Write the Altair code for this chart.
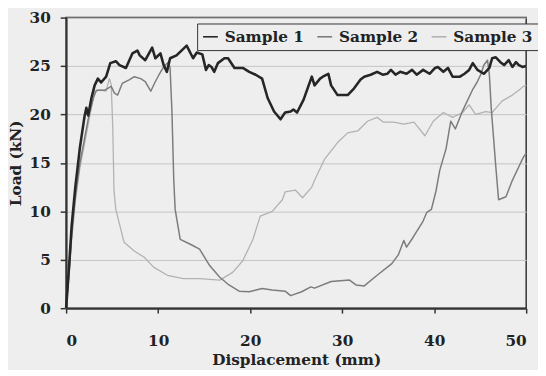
import altair as alt
import pandas as pd

# ---- data ----
s1_x = [0, 0.3, 0.6, 1.0, 1.5, 2.0, 2.2, 2.4, 2.75, 3.1, 3.45, 3.8, 4.35, 4.8, 5.4, 5.8, 6.5, 7.2, 7.75, 8.0,
        8.6, 9.35, 9.7, 10.25, 10.6, 10.95, 11.3, 12.0, 13.1, 13.8, 14.2, 14.8, 15.2, 15.5, 15.8, 16.1, 16.5,
        17.2, 17.6, 18.3, 19.2, 19.9, 20.6, 21.3, 21.9, 22.6, 23.3, 23.8, 24.4, 24.7, 25.1, 25.8, 26.7, 27.0,
        27.6, 27.9, 28.5, 28.8, 29.5, 30.6, 31.3, 32.0, 32.4, 33.1, 33.8, 34.4, 34.9, 35.3, 35.8, 36.3, 37.0,
        37.6, 38.1, 38.8, 39.5, 40.1, 40.4, 41.0, 41.5, 42.0, 42.8, 43.3, 43.8, 44.2, 44.7, 45.4, 46.0, 46.3,
        46.7, 47.2, 47.6, 48.1, 48.5, 48.9, 49.2, 49.6, 50.0]
s1_y = [0, 4, 8.5, 12.5, 16.6, 19.8, 20.7, 19.9, 21.7, 23.0, 23.7, 23.3, 23.9, 25.3, 25.5, 25.1, 24.8, 26.3, 26.6, 26.1,
        25.6, 26.9, 25.8, 26.3, 25.1, 24.4, 25.8, 26.1, 27.1, 25.8, 26.4, 26.2, 24.6, 25.1, 24.9, 24.4, 25.3,
        25.8, 25.8, 24.8, 24.8, 24.4, 24.1, 23.7, 21.7, 20.3, 19.5, 20.2, 20.3, 20.5, 20.2, 21.5, 23.9, 23.0,
        23.7, 23.9, 24.2, 23.0, 22.0, 22.0, 22.7, 23.6, 23.9, 24.1, 24.4, 24.1, 24.2, 24.6, 24.1, 24.4, 24.2,
        24.6, 24.1, 24.6, 24.2, 24.8, 24.9, 24.4, 24.8, 23.9, 23.9, 24.2, 24.6, 25.3, 24.6, 24.2, 24.8, 25.8,
        25.9, 25.4, 25.1, 25.6, 24.9, 25.4, 25.1, 24.9, 25.0]

s2_x = [0, 0.3, 0.6, 1.0, 1.5, 2.0, 2.5, 3.0, 3.3, 4.2, 4.9, 5.25, 5.6, 6.1, 6.9, 7.4, 8.1, 8.6, 9.2, 9.7,
        10.1, 10.6, 11.1, 11.3, 11.5, 11.7, 11.85, 12.4, 13.5, 14.5, 15.6, 16.7, 17.7, 18.8, 19.9, 21.3, 22.4,
        23.8, 24.4, 25.6, 26.6, 27.0, 28.8, 30.8, 31.5, 32.4, 33.8, 35.4, 36.1, 36.7, 37.0, 37.7, 38.8, 39.2,
        39.7, 40.2, 40.6, 41.3, 41.8, 42.3, 43.1, 44.2, 44.7, 45.1, 45.4, 45.8, 46.0, 46.2, 46.7, 47.0, 47.8,
        48.5, 49.2, 49.7, 50.0]
s2_y = [0, 3.5, 7.5, 11.5, 15.0, 17.5, 20.0, 21.8, 22.5, 22.5, 22.9, 22.2, 22.0, 23.2, 23.6, 23.9, 23.7, 23.4, 22.4, 23.4,
        24.1, 24.9, 25.4, 24.8, 20.3, 13.2, 10.2, 7.1, 6.6, 6.1, 4.4, 3.2, 2.4, 1.76, 1.7, 2.03, 1.87,
        1.76, 1.3, 1.7, 2.2, 2.07, 2.75, 2.9, 2.4, 2.3, 3.4, 4.6, 5.5, 7.0, 6.3, 7.3, 9.0, 9.9,
        10.2, 12.1, 14.2, 16.5, 19.3, 18.5, 20.4, 22.6, 23.4, 24.2, 25.1, 25.6, 24.1, 20.7, 14.6, 11.2, 11.5,
        13.2, 14.6, 15.6, 16.0]

s3_x = [0, 0.3, 0.6, 1.0, 1.5, 2.0, 2.5, 3.1, 3.8, 4.35, 4.7, 4.9, 5.07, 5.2, 5.4, 6.3, 7.4, 8.5, 9.5, 11.0,
        12.75, 14.5, 16.7, 18.1, 19.2, 20.3, 21.1, 22.4, 23.5, 23.8, 24.9, 25.7, 26.7, 27.0, 28.1, 29.5, 30.6,
        31.7, 32.75, 33.8, 34.5, 35.6, 36.7, 37.8, 39.0, 39.9, 41.0, 42.0, 43.1, 43.8, 44.5, 45.6, 46.3, 47.4,
        48.5, 49.2, 49.7, 50.0]
s3_y = [0, 3.2, 7.0, 11.0, 14.5, 17.0, 19.5, 22.4, 22.5, 22.4, 23.7, 23.1, 18.6, 12.2, 10.2, 6.8, 5.9, 5.26, 4.24, 3.4,
        3.05, 3.05, 2.9, 3.7, 4.9, 7.1, 9.5, 10.0, 11.2, 12.0, 12.2, 11.4, 12.5, 13.2, 15.4, 17.1, 18.1,
        18.3, 19.3, 19.7, 19.2, 19.2, 19.0, 19.2, 17.8, 19.3, 20.2, 19.7, 20.2, 21.0, 20.0, 20.3, 20.2, 21.4,
        22.0, 22.5, 22.9, 23.0]

samples = ["Sample 1", "Sample 2", "Sample 3"]
colors = ["#262626", "#7c7c7c", "#b2b2b2"]
x_ticks = [0, 10, 20, 30, 40, 50]
y_ticks = [0, 5, 10, 15, 20, 25, 30]

rows = []
for name, xs, ys in zip(samples, [s1_x, s2_x, s3_x], [s1_y, s2_y, s3_y]):
    for i, (xv, yv) in enumerate(zip(xs, ys)):
        rows.append({"sample": name, "x": xv, "y": yv, "idx": i})
df = pd.DataFrame(rows)

FONT = "DejaVu Serif"

color = alt.Color(
    "sample:N",
    scale=alt.Scale(domain=samples, range=colors),
    legend=alt.Legend(
        title=None, orient="none", legendX=133, legendY=6, direction="horizontal", columns=3,
        columnPadding=9, symbolType="stroke", symbolSize=225, symbolStrokeWidth=1.6,
        labelFont=FONT, labelFontWeight="bold", labelFontSize=15.5, labelColor="#222222",
        labelOffset=6, fillColor="#eeeeee", strokeColor="#333333", padding=5,
    ),
)

xenc = alt.X("x:Q", scale=alt.Scale(domain=[0, 50], nice=False),
             axis=alt.Axis(title="Displacement (mm)", values=x_ticks, grid=False,
                           tickSize=5, labelPadding=21, titlePadding=4))
yenc = alt.Y("y:Q", scale=alt.Scale(domain=[0, 30], nice=False),
             axis=alt.Axis(title="Load (kN)", values=y_ticks, grid=True,
                           tickSize=6, labelPadding=10, titlePadding=6))

base = alt.Chart(df).mark_line(strokeJoin="round").encode(
    x=xenc, y=yenc, color=color, order="idx:Q"
)

l3 = base.transform_filter(alt.datum.sample == "Sample 3").encode(strokeWidth=alt.value(1.3))
l2 = base.transform_filter(alt.datum.sample == "Sample 2").encode(strokeWidth=alt.value(1.5))
l1 = base.transform_filter(alt.datum.sample == "Sample 1").encode(strokeWidth=alt.value(2.6))

chart = alt.layer(l3, l2, l1).properties(
    width=467, height=295,
    autosize=alt.AutoSizeParams(type="none"),
    padding={"left": 59, "top": 7, "right": 12, "bottom": 60},
    background="#eeeeee",
).configure_view(
    stroke="#333333", strokeWidth=1.5, fill="#eeeeee"
).configure_axis(
    domainColor="#333333", domainWidth=2, tickColor="#333333", tickWidth=1.5,
    gridColor="#c4c4c4", gridWidth=1,
    labelFont=FONT, labelFontWeight="bold", labelFontSize=15.5, labelColor="#222222",
    titleFont=FONT, titleFontWeight="bold", titleFontSize=15.5, titleColor="#222222",
)

chart.save("out.html", embed_options={"renderer": "svg", "actions": False})
